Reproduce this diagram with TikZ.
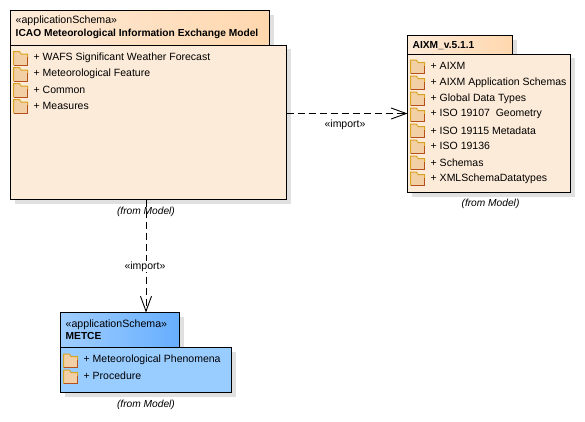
\documentclass[tikz,border=0pt]{standalone}
\usepackage{fontspec}
\setmainfont{Liberation Sans}
\usetikzlibrary{shadows,arrows.meta}

\definecolor{peachBody}{HTML}{FDEBD9}
\definecolor{peachDark}{HTML}{FFD7AE}
\definecolor{blueBody}{HTML}{99CCFF}
\definecolor{blueDark}{HTML}{66AEFF}
\definecolor{blueLight}{HTML}{A0CEFF}
\definecolor{folderFill}{HTML}{F3CFA6}
\definecolor{folderTop}{HTML}{D9A520}
\definecolor{folderLow}{HTML}{B5501E}

\tikzstyle{pkgShadow} = [general shadow={fill=black!12,shadow xshift=4pt,shadow yshift=-4pt}]
\tikzstyle{pkgTab} = [rectangle, anchor=north west, draw=black, line width=1pt, pkgShadow, inner sep=0pt, outer sep=0pt]
\tikzstyle{pkgBody} = [pkgTab, fill=peachBody]
\tikzstyle{tabText} = [anchor=west, inner sep=0pt, align=left, font=\fontsize{10.6}{12.6}\selectfont]
\tikzstyle{rowText} = [anchor=west, inner sep=0pt, yshift=-0.8pt, font=\fontsize{10.5}{12}\selectfont]
\tikzstyle{fromText} = [inner sep=0pt, yshift=-1pt, font=\fontsize{10.2}{12}\selectfont\itshape]
\tikzstyle{importText} = [inner sep=1pt, fill=white, yshift=-1.5pt, font=\fontsize{10.5}{12}\selectfont]
\tikzstyle{arrow} = [line width=0.9pt,dash pattern=on 7pt off 4pt,-{Straight Barb[length=15pt,width=11pt,line width=0.9pt]}]

\tikzset{
  folder/.pic={
    \fill[folderFill] (-7,-4) rectangle (7,7);
    \fill[folderFill] (-7,-6.5) rectangle (-1,-4);
    \draw[folderTop,line width=1pt] (-7,7) -- (-7,-6.5) -- (-1,-6.5) -- (0.5,-4) -- (7,-4) -- (7,0);
    \draw[folderLow,line width=1pt] (-7,7) -- (7,7) -- (7,-1);
  }
}

\begin{document}
\begin{tikzpicture}[x=1pt,y=-1pt]
  \useasboundingbox (0,0) rectangle (585,421);

  % ICAO package
  \node (icao_tab)[pkgTab, left color=peachBody, right color=peachDark, minimum width=259pt, minimum height=34.5pt] at (10.5,10.5) {};
  \node (icao)[pkgBody, minimum width=276pt, minimum height=154.5pt] at (10.5,45) {};
  \node (icao_title)[tabText] at (15.5,27.5) {«applicationSchema»\\ \fontsize{10.2}{12.6}\selectfont\textbf{ICAO Meteorological Information Exchange Model}};
  \pic at (20.5,58) {folder};
  \pic at (20.5,74) {folder};
  \pic at (20.5,90) {folder};
  \pic at (20.5,106) {folder};
  \node (wafs)[rowText] at (33.5,57) {+ WAFS Significant Weather Forecast};
  \node (metfeature)[rowText] at (33.5,73) {+ Meteorological Feature};
  \node (common)[rowText] at (33.5,89) {+ Common};
  \node (measures)[rowText] at (33.5,105) {+ Measures};
  \node (icao_from)[fromText] at (146,210.5) {(from Model)};

  % AIXM package
  \node (aixm_tab)[pkgTab, left color=peachBody, right color=peachDark, minimum width=105pt, minimum height=18.5pt] at (407.5,35.5) {};
  \node (aixm)[pkgBody, minimum width=163pt, minimum height=138.5pt] at (407.5,54) {};
  \node (aixm_title)[tabText] at (412.5,45.5) {\fontsize{10.2}{12.6}\selectfont\textbf{AIXM\_v.5.1.1}};
  \pic at (417.5,66.5) {folder};
  \pic at (417.5,82.5) {folder};
  \pic at (417.5,98.5) {folder};
  \pic at (417.5,114.5) {folder};
  \pic at (417.5,130.5) {folder};
  \pic at (417.5,146.5) {folder};
  \pic at (417.5,162.5) {folder};
  \pic at (417.5,178.5) {folder};
  \node (aixm_core)[rowText] at (430.5,65.5) {+ AIXM};
  \node (aixm_app)[rowText] at (430.5,81.5) {+ AIXM Application Schemas};
  \node (global)[rowText] at (430.5,97.5) {+ Global Data Types};
  \node (iso107)[rowText] at (430.5,113.5) {+ ISO 19107~ Geometry};
  \node (iso115)[rowText] at (430.5,129.5) {+ ISO 19115 Metadata};
  \node (iso136)[rowText] at (430.5,145.5) {+ ISO 19136};
  \node (schemas)[rowText] at (430.5,161.5) {+ Schemas};
  \node (xmltypes)[rowText] at (430.5,177.5) {+ XMLSchemaDatatypes};
  \node (aixm_from)[fromText] at (490.5,203) {(from Model)};

  % METCE package
  \node (metce_tab)[pkgTab, left color=blueLight, right color=blueDark, minimum width=119pt, minimum height=35pt] at (60.5,312.5) {};
  \node (metce)[pkgTab, fill=blueBody, minimum width=171pt, minimum height=45pt] at (60.5,347.5) {};
  \node (metce_title)[tabText] at (65.5,329.5) {«applicationSchema»\\ \fontsize{10.2}{12.6}\selectfont\textbf{METCE}};
  \pic at (70.5,360.5) {folder};
  \pic at (70.5,376.5) {folder};
  \node (phenomena)[rowText] at (83.5,358.5) {+ Meteorological Phenomena};
  \node (procedure)[rowText] at (83.5,374.5) {+ Procedure};
  \node (metce_from)[fromText] at (146,403.5) {(from Model)};

  \draw [arrow] (icao.east |- 0,113.5) -- (aixm.west |- 0,113.5);
  \draw [arrow] (icao.south -| 146,0) -- (metce_tab.north -| 146,0);

  \node (import_h)[importText, fill=none] at (345,123) {«import»};
  \node (import_v)[importText] at (145,265) {«import»};
\end{tikzpicture}
\end{document}
